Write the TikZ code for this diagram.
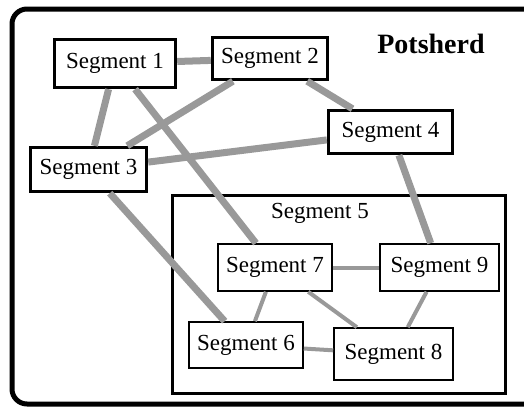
\documentclass[tikz,border=0pt]{standalone}
\usepackage{fontspec}
\setmainfont{Liberation Serif}
\definecolor{linkgray}{RGB}{153,153,153}
\tikzset{
  seg/.style={draw,fill=white,line width=1.6pt,inner sep=0pt,
    font=\fontsize{23}{26}\selectfont},
  segthick/.style={seg,line width=3.4pt},
  link/.style={linkgray,line width=7pt},
  thinlink/.style={linkgray,line width=4pt}
}

\begin{document}
\begin{tikzpicture}[x=1pt,y=-1pt]
   \useasboundingbox (0,0) rectangle (524,410);
   \clip (0,0) rectangle (524,410);
   % frame of the potsherd
   \draw[line width=5pt,rounded corners=15pt] (12,9) rectangle (545,404);
   \node[font=\fontsize{28}{32}\selectfont\bfseries] (title) at (431,44) {Potsherd};
   % segment 5 and what it holds
   \node[draw,line width=3.4pt,minimum width=333pt,minimum height=198pt,
     inner sep=0pt] (box5) at (339,294.5) {};
   \node[font=\fontsize{23}{26}\selectfont] (seg5) at (320,213) {Segment 5};
   \node[segthick,minimum width=121pt,minimum height=48pt] (seg1) at (115,63.5) {Segment 1};
   \node[segthick,minimum width=115pt,minimum height=42pt] (seg2) at (270,58.5) {Segment 2};
   \node[segthick,minimum width=116pt,minimum height=44pt] (seg3) at (88.5,169.5) {Segment 3};
   \node[segthick,minimum width=124pt,minimum height=43pt] (seg4) at (390.5,132) {Segment 4};
   \node[seg,minimum width=114pt,minimum height=47pt] (seg7) at (275,267.5) {Segment 7};
   \node[seg,minimum width=119pt,minimum height=47pt] (seg9) at (439.5,267.5) {Segment 9};
   \node[seg,minimum width=114pt,minimum height=46pt] (seg6) at (246,345) {Segment 6};
   \node[seg,minimum width=119pt,minimum height=52pt] (seg8) at (393.5,354) {Segment 8};
   % links
   \draw[link] (seg1) -- (seg2);
   \draw[link] (seg1) -- (seg3);
   \draw[link] (seg1) -- (seg7);
   \draw[link] (seg2) -- (seg3);
   \draw[link] (seg2) -- (seg4);
   \draw[link] (seg3) -- (seg4);
   \draw[link] (seg3) -- (seg6);
   \draw[link] (seg4) -- (seg9);
   \draw[thinlink] (seg7) -- (seg9);
   \draw[thinlink] (seg7) -- (seg6);
   \draw[thinlink] (seg7) -- (seg8);
   \draw[thinlink] (seg9) -- (seg8);
   \draw[thinlink] (seg6) -- (seg8);
  \end{tikzpicture}
\end{document}
